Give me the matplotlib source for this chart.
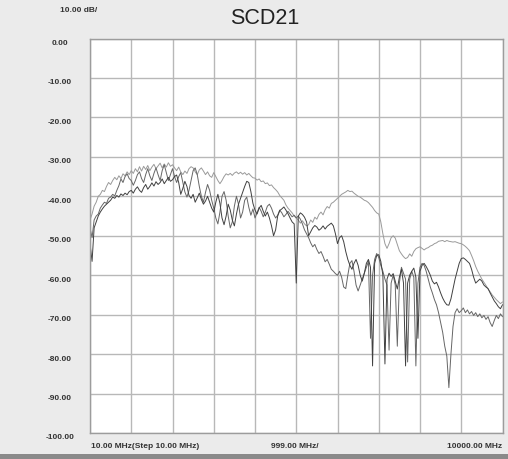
import numpy as np
import matplotlib
matplotlib.use("Agg")
import matplotlib.pyplot as plt
from matplotlib.transforms import blended_transform_factory
from matplotlib.patches import Rectangle

# sweep: 10 MHz .. 10000 MHz, 201 points
freq = np.linspace(10, 10000, 201)

# trace 1 (upper, light grey)
scd21_a = [
    -46, -44.5, -42.5, -41.5, -40, -39.5, -38.5, -38.8, -37.5, -36.5, -37, -36, -35.2, -35.8, -34.8, -35.5, -34.3, -34.8, -33.8, -34.5,
    -33.5, -34.2, -33, -33.8, -32.5, -33.6, -32.4, -33.2, -32.2, -33.5, -32.6, -31.9, -33, -32.3, -31.6, -32.8, -31.8, -32.6, -31.5, -32.4,
    -32, -32.8, -33.5, -32.6, -33.8, -34.5, -33.6, -34.2, -33, -32.5, -32.8, -33.8, -34.5, -33.3, -32.8, -33.6, -34.5, -33.8, -34.8, -35.2,
    -34, -35, -36, -36.8, -36, -35, -34.3, -34.6, -34.2, -34.7, -34.1, -33.8, -34.3, -33.9, -34.4, -34, -34.6, -34.2, -34.8, -35.3,
    -35.4, -35.9, -35.6, -36.3, -36.1, -36.8, -36.6, -37.3, -37.1, -37.8, -38.3, -38.9, -39.8, -40.4, -41, -42.2, -43, -43.6, -44.2, -45,
    -45.5, -46, -46.8, -46.2, -47, -47.5, -47.2, -46, -46.6, -45.3, -45.8, -44.6, -44, -44.7, -43.4, -42.6, -43, -41.8, -41.5, -41,
    -40.5, -40, -39.5, -39.2, -38.9, -38.5, -38.8, -38.7, -39.2, -39.6, -40, -40.2, -40.6, -41, -41.2, -41.6, -42.2, -42.8, -43.6, -44.2,
    -44.5, -46.5, -49.5, -52, -53.2, -52, -50.5, -50, -50.6, -52.2, -53.8, -54.6, -55.3, -55.8, -55.5, -54.6, -55.2, -54, -53.3, -53,
    -52.8, -53.2, -53.6, -53.2, -53, -52.6, -52.4, -52, -51.8, -51.4, -51.3, -51.2, -51.5, -51.2, -51.4, -51.5, -51.6, -51.5, -51.7, -51.9,
    -52, -52.3, -52.7, -53.2, -53.8, -55, -56.3, -57.8, -59, -60, -61, -61.8, -62.6, -63.5, -64.2, -65, -65.6, -66.2, -66.7, -67.2, -66.8,
]

# trace 2 (dark, notches mid band)
scd21_b = [
    -52, -56.5, -48, -46.5, -45, -44, -43.2, -42.5, -42, -41.5, -41, -40.2, -40.5, -39.8, -40.2, -39.4, -39.8, -39.2, -39.6, -38.8,
    -38.5, -39.2, -38.2, -37.6, -38.5, -39, -37.8, -37, -38.2, -37.5, -36.6, -37.4, -36.3, -37, -36.5, -35.6, -36.8, -36, -35.2, -36.2,
    -35.8, -35, -34.6, -36.5, -39.5, -38, -36.2, -37.5, -39.8, -40.5, -39.5, -41.5, -40.4, -39.2, -40.8, -42, -41.2, -40, -41.5, -43,
    -44, -41.5, -39.5, -41.8, -45.5, -47.2, -45, -42, -43.5, -46, -47.5, -44.5, -42, -40.5, -39, -37.5, -36.2, -36.5, -38.8, -41.8,
    -43.5, -44.5, -43, -42.3, -43.8, -45, -44, -45.5, -47.5, -50, -48.5, -45, -43.6, -43.2, -42.7, -43.5, -44.4, -45.5, -46.5, -47,
    -62, -45, -44.2, -44.6, -45.3, -46.5, -50, -49, -48, -47.4, -47.8, -48.6, -48.2, -47.5, -48.3, -47.6, -47.2, -46.8, -47.5, -49.5,
    -52, -50.5, -50, -51.5, -54, -56, -57.5, -58.5, -57, -56, -57.5, -60, -61.5, -59.5, -57, -56, -58, -83, -57, -55,
    -54.8, -56.5, -60, -82.5, -61, -59.5, -60.3, -59.6, -61.5, -63.5, -60.5, -58.5, -62, -83, -62, -60, -59, -58.2, -60.5, -76,
    -59, -57.5, -57, -57.8, -58.8, -60, -61.5, -62.2, -61.8, -63, -64.5, -65.8, -66.8, -67.5, -67.6, -66, -63.5, -61, -59, -57,
    -55.8, -55.6, -56, -56.5, -57, -58.5, -60.5, -62, -61.5, -61, -61.5, -62.5, -63, -63.4, -64.5, -65.5, -66.5, -67.2, -68, -68.5, -67.5,
]

# trace 3 (mid grey, deep notch near 8.6 GHz)
scd21_c = [
    -48, -50.5, -46, -45, -44.5, -43, -42.2, -41.5, -41.8, -40.5, -40.2, -39.5, -39.9, -38.5, -37.3, -35.6, -36.5, -35, -34.3, -35.5,
    -36, -37.2, -36, -34.5, -33.8, -35.5, -36.5, -34.5, -33, -34.8, -36, -34.2, -32.8, -34.5, -36, -33.5, -32, -34, -36, -34.5,
    -33, -35, -36.5, -35, -34, -36.5, -38.9, -40.2, -38.5, -36, -33.5, -32.8, -34.5, -37.5, -40, -41.5, -39, -37, -38.5, -41,
    -43, -45.5, -47, -44, -40, -38.8, -41, -45, -48, -46.5, -42.5, -40, -42, -45.5, -44, -41, -40.2, -42.8, -44.8, -43.2,
    -45.5, -44.2, -42.8, -43.8, -45.2, -44, -42.5, -42, -43, -44.5, -45.5, -44.8, -43.5, -44.2, -45.2, -44.6, -43.8, -44.5, -45.2, -44.8,
    -45.5, -45, -45.8, -47, -48.5, -49.5, -50.5, -51.8, -52.8, -52.2, -53.5, -54.5, -54, -55.2, -56.6, -56, -57.2, -58.5, -59, -59.6,
    -60, -59, -60.5, -63, -63.4, -60, -57, -56.3, -59, -62.5, -64, -62.5, -61, -59.5, -58, -56.5, -76, -60, -56, -54.5,
    -55.5, -57.5, -59, -61, -62.5, -79, -62, -60, -62.5, -78, -62, -58, -59.5, -61, -82, -61, -59, -60.5, -83, -62,
    -58, -57, -57.5, -59, -61, -63, -64.5, -66.2, -67.5, -69.5, -72, -74.5, -78, -80.5, -88.5, -80, -73, -69.5, -68.5, -69.5,
    -69, -68.3, -69.5, -68.8, -69.8, -69.2, -70.2, -69.5, -70.5, -69.8, -70.8, -70.2, -71.2, -70.5, -72, -73, -71.5, -70.2, -71, -69.8, -70.5,
]

y_ticks = np.arange(0, -101, -10)
y_labels = ["%.2f" % v for v in y_ticks]

plt.rcParams['font.family'] = ['Liberation Sans', 'DejaVu Sans']

fig = plt.figure(figsize=(5.08, 4.6), dpi=100, facecolor='#ebebeb')
ax = fig.add_axes([90 / 508, 1 - 434 / 460, 412.5 / 508, 394.5 / 460])
ax.set_facecolor('white')

ax.plot(freq, scd21_a, color='#9a9a9a', lw=0.7)
ax.plot(freq, scd21_c, color='#666666', lw=0.7)
ax.plot(freq, scd21_b, color='#404040', lw=0.7)

ax.set_xlim(10, 10000)
ax.set_ylim(-100, 0)
ax.set_xticks(np.linspace(10, 10000, 11))
ax.set_yticks(y_ticks)
ax.grid(True, color='#b8b8b8', lw=1.0)
ax.set_axisbelow(True)
ax.tick_params(length=0, labelbottom=False, labelleft=False)
for s in ax.spines.values():
    s.set_color('#9c9c9c')
    s.set_linewidth(1.0)

# y labels sit a little below their grid lines
tr = blended_transform_factory(ax.transAxes, ax.transData)
for v, lab in zip(y_ticks, y_labels):
    ax.text(-0.073, v - 1.0, lab, transform=tr, ha='center', va='center',
            fontsize=6, fontweight='bold', color='#333333')

fig.text(79 / 508, 1 - 10 / 460, "10.00 dB/", ha='center', va='center',
         fontsize=6, fontweight='bold', color='#333333')
fig.text(265 / 508, 1 - 18 / 460, "SCD21", ha='center', va='center',
         fontsize=15.5, color='#222222')

fig.text(91 / 508, 1 - 447 / 460, "10.00 MHz(Step 10.00 MHz)", ha='left', va='center',
         fontsize=6, fontweight='bold', color='#333333')
fig.text(295 / 508, 1 - 447 / 460, "999.00 MHz/", ha='center', va='center',
         fontsize=6, fontweight='bold', color='#333333')
fig.text(502 / 508, 1 - 447 / 460, "10000.00 MHz", ha='right', va='center',
         fontsize=6, fontweight='bold', color='#333333')

# dark strip along the bottom edge
fig.patches.append(Rectangle((0, 0), 1, 5 / 460, transform=fig.transFigure,
                             facecolor='#8a8a8a', edgecolor='none'))

fig.savefig("out.png", dpi=100, facecolor=fig.get_facecolor())
